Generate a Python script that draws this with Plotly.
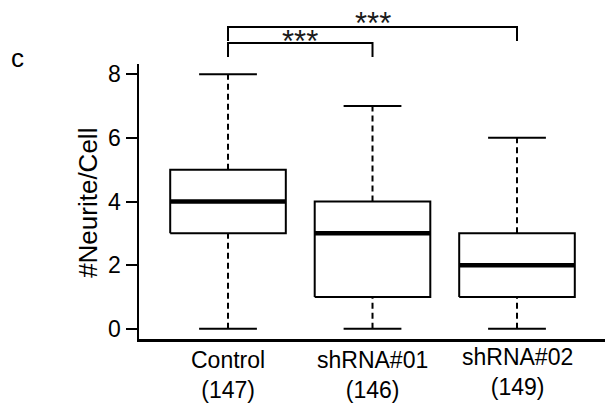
import plotly.graph_objects as go

# ---- data ----
categories = ["Control", "shRNA#01", "shRNA#02"]
counts = [147, 146, 149]
x_pos = [1, 2, 3]
whisker_low = [0, 0, 0]
q1 = [3, 1, 1]
median = [4, 3, 2]
q3 = [5, 4, 3]
whisker_high = [8, 7, 6]
y_ticks = [0, 2, 4, 6, 8]
# significance comparisons: (from index, to index, label)
sig_from = [0, 0]
sig_to = [1, 2]
sig_label = ["***", "***"]

FONT = "Liberation Sans, Arial, sans-serif"
BOX_HALF = 0.4
CAP_HALF = 0.2

fig = go.Figure()
for i, x in enumerate(x_pos):
    # whiskers (dashed)
    fig.add_trace(go.Scatter(x=[x, x], y=[q3[i], whisker_high[i]], mode="lines",
                             line=dict(color="black", width=2, dash="6px,4px"), hoverinfo="skip"))
    fig.add_trace(go.Scatter(x=[x, x], y=[whisker_low[i], q1[i]], mode="lines",
                             line=dict(color="black", width=2, dash="6px,4px"), hoverinfo="skip"))
    # caps
    for v in (whisker_low[i], whisker_high[i]):
        fig.add_trace(go.Scatter(x=[x - CAP_HALF, x + CAP_HALF], y=[v, v], mode="lines",
                                 line=dict(color="black", width=2), hoverinfo="skip"))
    # box
    fig.add_trace(go.Scatter(x=[x - BOX_HALF, x + BOX_HALF, x + BOX_HALF, x - BOX_HALF, x - BOX_HALF],
                             y=[q1[i], q1[i], q3[i], q3[i], q1[i]], mode="lines",
                             line=dict(color="black", width=2), hoverinfo="skip"))
    # median
    fig.add_trace(go.Scatter(x=[x - BOX_HALF, x + BOX_HALF], y=[median[i], median[i]], mode="lines",
                             line=dict(color="black", width=4.5), hoverinfo="skip"))

# significance brackets
bracket_top = [1.0764, 1.1345]
bracket_bot = [1.0255, 1.0836]
text_y = [1.0833, 1.1487]
for k in range(len(sig_from)):
    xa = x_pos[sig_from[k]]
    xb = x_pos[sig_to[k]]
    fig.add_shape(type="path", xref="x", yref="paper",
                  path=f"M {xa},{bracket_bot[k]} L {xa},{bracket_top[k]} L {xb},{bracket_top[k]} L {xb},{bracket_bot[k]}",
                  line=dict(color="black", width=2))
    fig.add_annotation(x=(xa + xb) / 2, y=text_y[k], xref="x", yref="paper", text=sig_label[k],
                       showarrow=False, xanchor="center", yanchor="middle",
                       font=dict(family=FONT, size=31, color="#1a1a1a"))

# x category labels
label_y = [-0.1327, -0.1327, -0.121]
for i, x in enumerate(x_pos):
    fig.add_annotation(x=x, y=label_y[i], xref="x", yref="paper",
                       text=f"{categories[i]}<br>({counts[i]})", showarrow=False,
                       xanchor="center", yanchor="middle",
                       font=dict(family=FONT, size=23, color="black"))

# y-axis title
fig.add_annotation(x=-0.111, y=0.496, xref="paper", yref="paper", text="#Neurite/Cell",
                   textangle=-90, showarrow=False, xanchor="center", yanchor="middle",
                   font=dict(family=FONT, size=26, color="black"))
# panel label
fig.add_annotation(x=-0.2607, y=1.022, xref="paper", yref="paper", text="c",
                   showarrow=False, xanchor="center", yanchor="middle",
                   font=dict(family=FONT, size=26, color="black"))

fig.update_layout(
    width=605, height=403,
    margin=dict(l=139, r=0, t=64, b=64),
    paper_bgcolor="white", plot_bgcolor="white",
    showlegend=False,
    hovermode=False,
    font=dict(family=FONT, color="black"),
    xaxis=dict(range=[0.384, 3.609], showgrid=False, zeroline=False, showticklabels=False,
               ticks="", showline=True, linecolor="black", linewidth=2.5, fixedrange=True),
    yaxis=dict(range=[-0.32, 8.32], showgrid=False, zeroline=False, tickvals=y_ticks,
               ticks="outside", ticklen=11, tickwidth=2, tickcolor="black",
               showline=True, linecolor="black", linewidth=2.5, fixedrange=True,
               tickfont=dict(family=FONT, size=23, color="black")),
)

# remove the page's default body margin so the figure fills the window exactly
fig.write_html("out.html",
               config={"displayModeBar": False, "staticPlot": True},
               post_script="document.body.style.margin='0';document.body.style.overflow='hidden';")
